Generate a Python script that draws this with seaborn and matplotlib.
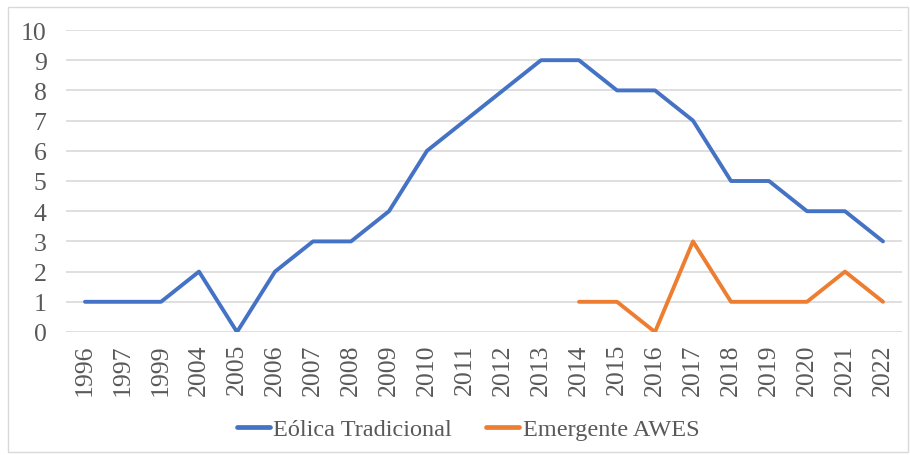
import matplotlib
matplotlib.use("Agg")
import matplotlib.pyplot as plt
import seaborn as sns
import pandas as pd
import numpy as np
from matplotlib.patches import Rectangle

years = ["1996", "1997", "1999", "2004", "2005", "2006", "2007", "2008", "2009",
         "2010", "2011", "2012", "2013", "2014", "2015", "2016", "2017", "2018",
         "2019", "2020", "2021", "2022"]
eolica_tradicional = [1, 1, 1, 2, 0, 2, 3, 3, 4, 6, 7, 8, 9, 9, 8, 8, 7, 5, 5, 4, 4, 3]
emergente_awes = [np.nan] * 13 + [1, 1, 0, 3, 1, 1, 1, 2, 1]
series_names = ["Eólica Tradicional", "Emergente AWES"]
y_ticks = list(range(0, 11))

pos = list(range(len(years)))
df = pd.concat([
    pd.DataFrame({"pos": pos, "year": years, "valor": eolica_tradicional, "serie": series_names[0]}),
    pd.DataFrame({"pos": pos, "year": years, "valor": emergente_awes, "serie": series_names[1]}),
], ignore_index=True)

sns.set_theme(style="white")
plt.rcParams["font.family"] = ["Liberation Serif", "DejaVu Serif"]
text_color = "#595959"

fig = plt.figure(figsize=(9.1, 4.56), dpi=100)
ax = fig.add_axes([66 / 910, 1 - 333 / 456, (902 - 66) / 910, (333 - 31) / 456])

sns.lineplot(data=df, x="pos", y="valor", hue="serie", hue_order=series_names,
             palette=["#4472C4", "#ED7D31"], linewidth=2.8, ax=ax, legend=True,
             estimator=None)

ax.set_xlim(-0.5, len(years) - 0.5)
ax.set_ylim(0, 10)
ax.set_yticks(y_ticks)
ax.set_xticks(pos)
ax.set_xticklabels(years, rotation=90)
ax.yaxis.grid(True, color="#D9D9D9", linewidth=1.2)
ax.xaxis.grid(False)
ax.set_axisbelow(True)
for s in ax.spines.values():
    s.set_visible(False)
ax.tick_params(axis="both", length=0, labelsize=18.5, colors=text_color)
ax.tick_params(axis="y", pad=14)
ax.tick_params(axis="x", pad=8)
ax.set_xlabel("")
ax.set_ylabel("")

handles, labels = ax.get_legend_handles_labels()
ax.get_legend().remove()
for h in handles:
    h.set_linewidth(3.4)
leg = fig.legend(handles, labels, loc="center", bbox_to_anchor=(468 / 910, 1 - 430 / 456),
                 ncol=2, frameon=False, fontsize=17.5, handlelength=1.35,
                 handletextpad=0.15, columnspacing=1.4)
for t in leg.get_texts():
    t.set_color(text_color)

fig.patches.append(Rectangle((8 / 910, 3 / 456), 900 / 910, 445 / 456,
                             transform=fig.transFigure, fill=False,
                             edgecolor="#D9D9D9", linewidth=1.0))

fig.savefig("out.png", dpi=100, facecolor="white")
